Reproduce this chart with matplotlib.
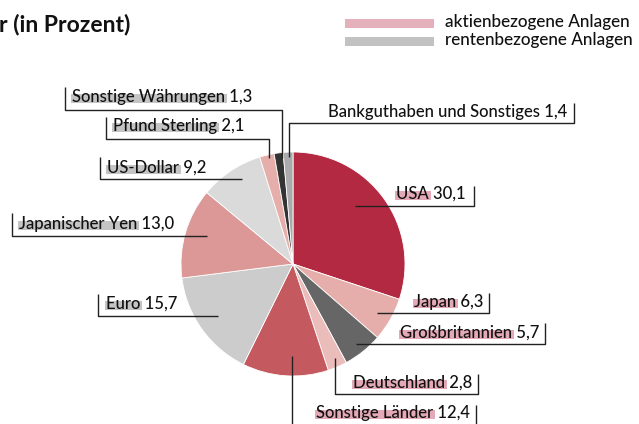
import matplotlib
matplotlib.use("Agg")
import matplotlib.pyplot as plt
from matplotlib.patches import Rectangle

plt.rcParams['font.family'] = ['Lato', 'DejaVu Sans']

# Anteile in Prozent, im Uhrzeigersinn ab 12 Uhr
names = ["USA", "Japan", "Großbritannien", "Deutschland", "Sonstige Länder",
         "Euro", "Japanischer Yen", "US-Dollar", "Pfund Sterling",
         "Sonstige Währungen", "Bankguthaben und Sonstiges"]
values = [30.1, 6.3, 5.7, 2.8, 12.4, 15.7, 13.0, 9.2, 2.1, 1.3, 1.4]
# 'a' = aktienbezogen, 'r' = rentenbezogen, '' = ohne Markierung
kinds = ["a", "a", "a", "a", "a", "r", "r", "r", "r", "r", ""]
colors = ["#b42942", "#e5aeaa", "#666666", "#ebbdba", "#c45a60",
          "#cccccc", "#dc9896", "#dadada", "#e5aeaa", "#333333", "#aaaaaa"]

mark_colors = {"a": "#e4a9b6", "r": "#c4c4c4"}

W, H = 639, 424
fig = plt.figure(figsize=(W / 100, H / 100), dpi=100)
ax = fig.add_axes([0, 0, 1, 1])

# pixel-like coordinates, y pointing down
ax.pie(values, colors=colors, startangle=-90, counterclock=True,
       center=(293, 264), radius=112,
       wedgeprops=dict(linewidth=0.6, edgecolor="white"))
ax.set_xlim(0, W)
ax.set_ylim(H, 0)
ax.set_aspect("auto")
ax.axis("off")

FS = 12
FW = 500
LINE = dict(color="#222222", lw=1.0, solid_capstyle="butt")

# label layout: text anchor (x, baseline, align) and leader polyline
layout = {
    "USA":              ((466, 199, "right"), [(355, 206), (474, 206), (474, 186)]),
    "Japan":            ((483, 307, "right"), [(377, 313), (489, 313), (489, 293)]),
    "Großbritannien":   ((539, 338, "right"), [(356, 344), (545, 344), (545, 323)]),
    "Deutschland":      ((472, 388, "right"), [(335, 358), (335, 394), (478, 394), (478, 374)]),
    "Sonstige Länder":  ((470, 418, "right"), [(476, 405), (476, 430)]),
    "Euro":             ((106, 309, "left"),  [(98, 294), (98, 316), (218, 316)]),
    "Japanischer Yen":  ((19, 229, "left"),   [(12, 213), (12, 236), (207, 236)]),
    "US-Dollar":        ((107, 173, "left"),  [(100, 157), (100, 179), (242, 179)]),
    "Pfund Sterling":   ((113, 131, "left"),  [(106, 117), (106, 139), (269, 139), (269, 158)]),
    "Sonstige Währungen": ((72, 102, "left"), [(65, 87), (65, 110), (282, 110), (282, 158)]),
    "Bankguthaben und Sonstiges": ((567, 117, "right"), [(289, 157), (289, 123), (574, 123), (574, 103)]),
}

# extra leader from the Sonstige Länder slice down past the bottom edge
ax.plot([292, 292], [356, 430], **LINE)

fig.canvas.draw()
renderer = fig.canvas.get_renderer()
inv = ax.transData.inverted()

for name, val, kind in zip(names, values, kinds):
    (tx, ty, ha), pts = layout[name]
    xs, ys = zip(*pts)
    ax.plot(xs, ys, **LINE)
    label = f"{name} {val:.1f}".replace(".", ",")
    t = ax.text(tx, ty, label, ha=ha, va="baseline", fontsize=FS,
                fontweight=FW, color="#111111", zorder=5)
    if kind:
        full = t.get_window_extent(renderer)
        probe = ax.text(0, 0, name, fontsize=FS, fontweight=FW, va="baseline")
        nb = probe.get_window_extent(renderer)
        probe.remove()
        x0 = inv.transform((full.x0, 0))[0]
        x1 = inv.transform((full.x0 + nb.width, 0))[0]
        ax.add_patch(Rectangle((x0 - 1, ty + 1), x1 - x0 + 3, -9,
                               facecolor=mark_colors[kind], edgecolor="none",
                               zorder=4))

# title fragment and legend
ax.text(-1, 31, "r (in Prozent)", fontsize=16.5, fontweight="bold",
        color="#111111", va="baseline", ha="left")

legend_rows = [("aktienbezogene Anlagen", "#e4b0bb", 23),
               ("rentenbezogene Anlagen", "#c2c2c2", 41)]
for txt, col, yc in legend_rows:
    ax.add_patch(Rectangle((345, yc - 4.5), 89, 9, facecolor=col,
                           edgecolor="none"))
    ax.text(445, yc + 4, txt, fontsize=12.3, fontweight=FW, color="#111111",
            va="baseline", ha="left")

fig.savefig("out.png", dpi=100)
